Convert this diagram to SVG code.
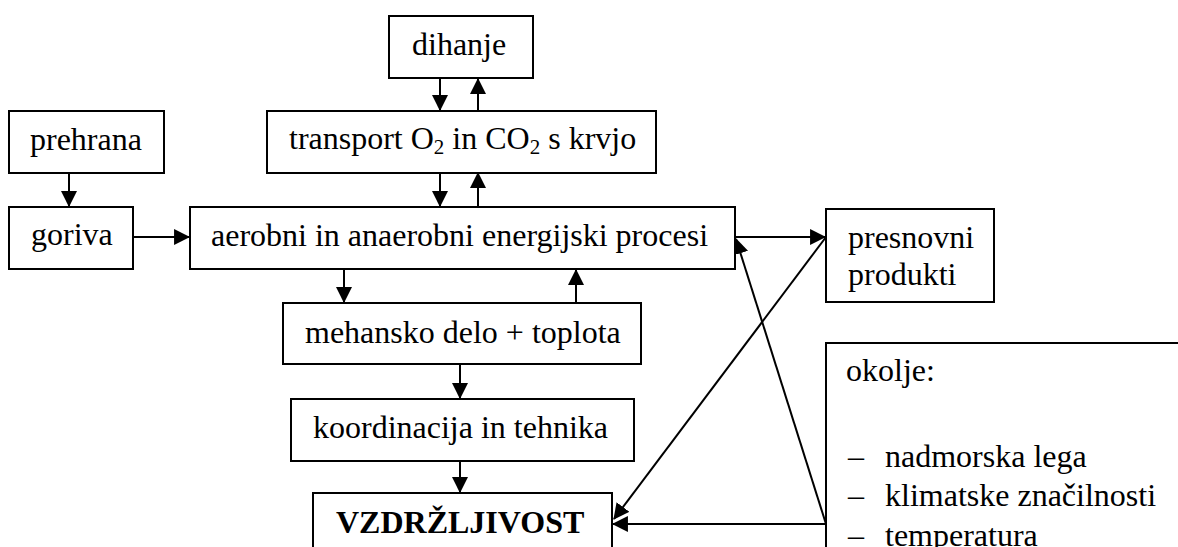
<svg xmlns="http://www.w3.org/2000/svg" width="1178" height="547" viewBox="0 0 1178 547">
<defs>
<style>
.box{fill:#fff;stroke:#000;stroke-width:2}
.t{font-family:"Liberation Serif","Times New Roman",serif;font-size:32px;fill:#000}
.b{font-weight:bold}
.sub{font-size:21px}
.c{fill:none;stroke:#000;stroke-width:2;marker-end:url(#ah)}
</style>
<marker id="ah" markerUnits="userSpaceOnUse" markerWidth="16" markerHeight="16" viewBox="0 0 15 15" refX="14" refY="7.5" orient="auto">
<path d="M0,0 L15,7.5 L0,15 Z" fill="#000"/>
</marker>
</defs>
<rect width="1178" height="547" fill="#fff"/>
<g id="connectors">
<line class="c" x1="440" y1="79" x2="440" y2="110"/>
<line class="c" x1="478" y1="110" x2="478" y2="79"/>
<line class="c" x1="440" y1="173" x2="440" y2="206"/>
<line class="c" x1="478" y1="206" x2="478" y2="173"/>
<line class="c" x1="69" y1="173" x2="69" y2="206"/>
<line class="c" x1="133" y1="237" x2="189" y2="237"/>
<line class="c" x1="735" y1="237" x2="825" y2="237"/>
<line class="c" x1="344" y1="269" x2="344" y2="302"/>
<line class="c" x1="576" y1="303" x2="576" y2="270"/>
<line class="c" x1="460" y1="364" x2="460" y2="398"/>
<line class="c" x1="460" y1="461" x2="460" y2="492"/>
<line class="c" x1="826" y1="237" x2="614" y2="519"/>
<line class="c" x1="826" y1="524" x2="736" y2="239"/>
<line class="c" x1="826" y1="524" x2="613" y2="524"/>
</g>
<g id="dihanje">
<rect class="box" x="389" y="16" width="144" height="62"/>
<text class="t" x="412" y="55">dihanje</text>
</g>
<g id="transport">
<rect class="box" x="267" y="111" width="389" height="62"/>
<text class="t" x="289" y="149">transport O<tspan class="sub" dy="5">2</tspan><tspan dy="-5"> in CO</tspan><tspan class="sub" dy="5">2</tspan><tspan dy="-5"> s krvjo</tspan></text>
</g>
<g id="prehrana">
<rect class="box" x="9" y="111" width="155" height="62"/>
<text class="t" x="30" y="150">prehrana</text>
</g>
<g id="goriva">
<rect class="box" x="9" y="207" width="124" height="62"/>
<text class="t" x="31" y="245">goriva</text>
</g>
<g id="aerobni">
<rect class="box" x="190" y="207" width="545" height="62"/>
<text class="t" x="211" y="246">aerobni in anaerobni energijski procesi</text>
</g>
<g id="presnovni">
<rect class="box" x="826" y="209" width="168" height="93"/>
<text class="t" x="848" y="248">presnovni</text>
<text class="t" x="848" y="285">produkti</text>
</g>
<g id="mehansko">
<rect class="box" x="283" y="303" width="358" height="61"/>
<text class="t" x="305" y="343">mehansko delo + toplota</text>
</g>
<g id="koordinacija">
<rect class="box" x="291" y="399" width="343" height="62"/>
<text class="t" x="313" y="438">koordinacija in tehnika</text>
</g>
<g id="vzdrzljivost">
<rect class="box" x="313" y="493" width="299" height="80"/>
<text class="t b" x="336" y="533">VZDRŽLJIVOST</text>
</g>
<g id="okolje">
<rect class="box" x="826" y="343" width="400" height="260"/>
<text class="t" x="846" y="381">okolje:</text>
<text class="t" x="848" y="467">–</text>
<text class="t" x="885" y="467">nadmorska lega</text>
<text class="t" x="848" y="506">–</text>
<text class="t" x="885" y="506">klimatske značilnosti</text>
<text class="t" x="848" y="546">–</text>
<text class="t" x="885" y="546">temperatura</text>
</g>
</svg>
